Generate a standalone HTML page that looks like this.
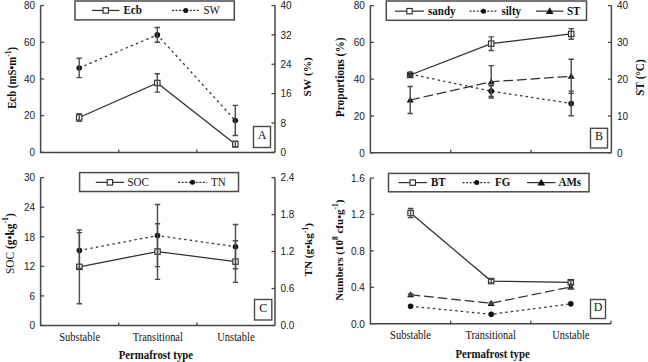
<!DOCTYPE html>
<html><head><meta charset="utf-8"><style>
html,body{margin:0;padding:0;background:#fff;}
svg{display:block;}
.tk{font-family:"Liberation Sans", sans-serif;font-size:10px;fill:#1a1a1a;}
.lg{font-family:"Liberation Serif", serif;font-size:11px;fill:#111;}
.lgb{font-family:"Liberation Serif", serif;font-size:11px;font-weight:bold;fill:#111;}
.bx{font-family:"Liberation Serif", serif;font-size:12px;fill:#111;}
.xl{font-family:"Liberation Serif", serif;font-size:10.5px;fill:#111;}
.ttl{font-family:"Liberation Serif", serif;font-size:10.8px;font-weight:bold;fill:#111;}
</style></head><body>
<svg width="648" height="362" viewBox="0 0 648 362">
<rect width="648" height="362" fill="#fff"/>
<path d="M40.6 5.5V152.4H275" fill="none" stroke="#474747" stroke-width="1.5"/>
<path d="M275 5.5V152.4" fill="none" stroke="#474747" stroke-width="1.5"/>
<path d="M118.73 152.4V149.4" stroke="#474747" stroke-width="1.3"/>
<path d="M196.87 152.4V149.4" stroke="#474747" stroke-width="1.3"/>
<path d="M40.6 152.40H44.1" stroke="#474747" stroke-width="1.3"/>
<text transform="translate(35.10 156.20) scale(1 1.155)" text-anchor="end" class="tk">0</text>
<path d="M40.6 115.68H44.1" stroke="#474747" stroke-width="1.3"/>
<text transform="translate(35.10 119.48) scale(1 1.155)" text-anchor="end" class="tk">20</text>
<path d="M40.6 78.95H44.1" stroke="#474747" stroke-width="1.3"/>
<text transform="translate(35.10 82.75) scale(1 1.155)" text-anchor="end" class="tk">40</text>
<path d="M40.6 42.22H44.1" stroke="#474747" stroke-width="1.3"/>
<text transform="translate(35.10 46.02) scale(1 1.155)" text-anchor="end" class="tk">60</text>
<path d="M40.6 5.50H44.1" stroke="#474747" stroke-width="1.3"/>
<text transform="translate(35.10 9.30) scale(1 1.155)" text-anchor="end" class="tk">80</text>
<path d="M275 152.40H271.5" stroke="#474747" stroke-width="1.3"/>
<text transform="translate(280.50 156.20) scale(1 1.155)" class="tk">0</text>
<path d="M275 123.02H271.5" stroke="#474747" stroke-width="1.3"/>
<text transform="translate(280.50 126.82) scale(1 1.155)" class="tk">8</text>
<path d="M275 93.64H271.5" stroke="#474747" stroke-width="1.3"/>
<text transform="translate(280.50 97.44) scale(1 1.155)" class="tk">16</text>
<path d="M275 64.26H271.5" stroke="#474747" stroke-width="1.3"/>
<text transform="translate(280.50 68.06) scale(1 1.155)" class="tk">24</text>
<path d="M275 34.88H271.5" stroke="#474747" stroke-width="1.3"/>
<text transform="translate(280.50 38.68) scale(1 1.155)" class="tk">32</text>
<path d="M275 5.50H271.5" stroke="#474747" stroke-width="1.3"/>
<text transform="translate(280.50 9.30) scale(1 1.155)" class="tk">40</text>
<path d="M79.20 117.51 L157.30 82.99 L235.30 144.14" fill="none" stroke="#2e2e2e" stroke-width="1.25"/>
<rect x="76.50" y="114.81" width="5.40" height="5.40" fill="#fff" stroke="#2e2e2e" stroke-width="1.15"/>
<rect x="154.60" y="80.29" width="5.40" height="5.40" fill="#fff" stroke="#2e2e2e" stroke-width="1.15"/>
<rect x="232.60" y="141.44" width="5.40" height="5.40" fill="#fff" stroke="#2e2e2e" stroke-width="1.15"/>
<path d="M79.20 113.66V121.37M76.50 113.66H81.90M76.50 121.37H81.90" stroke="#4a4a4a" stroke-width="1.4"/>
<path d="M157.30 73.81V92.17M154.60 73.81H160.00M154.60 92.17H160.00" stroke="#4a4a4a" stroke-width="1.4"/>
<path d="M235.30 141.20V147.07M232.60 141.20H238.00M232.60 147.07H238.00" stroke="#4a4a4a" stroke-width="1.4"/>
<path d="M79.20 67.93 L157.30 34.88 L235.30 120.45" fill="none" stroke="#2e2e2e" stroke-width="1.25" stroke-dasharray="2.4 3.2"/>
<circle cx="79.20" cy="67.93" r="2.80" fill="#111"/>
<circle cx="157.30" cy="34.88" r="2.80" fill="#111"/>
<circle cx="235.30" cy="120.45" r="2.80" fill="#111"/>
<path d="M79.20 58.20V77.66M76.50 58.20H81.90M76.50 77.66H81.90" stroke="#4a4a4a" stroke-width="1.4"/>
<path d="M157.30 27.53V42.23M154.60 27.53H160.00M154.60 42.23H160.00" stroke="#4a4a4a" stroke-width="1.4"/>
<path d="M235.30 105.39V135.51M232.60 105.39H238.00M232.60 135.51H238.00" stroke="#4a4a4a" stroke-width="1.4"/>
<rect x="75" y="1.0" width="159.3" height="18.9" fill="#fff" stroke="#4a4a4a" stroke-width="1.5"/>
<path d="M92 10.45H119.5" stroke="#2e2e2e" stroke-width="1.2"/>
<rect x="103.05" y="7.75" width="5.40" height="5.40" fill="#fff" stroke="#2e2e2e" stroke-width="1.15"/>
<text transform="translate(123.50 14.25) scale(1 1.1)" class="lgb">Ecb</text>
<path d="M172 10.45H199.5" stroke="#2e2e2e" stroke-width="1.2" stroke-dasharray="2 1.55"/>
<circle cx="185.75" cy="10.45" r="2.52" fill="#111"/>
<text transform="translate(203.50 14.25) scale(1 1.1)" class="lg">SW</text>
<rect x="253.5" y="126.5" width="17.0" height="21.0" fill="#fff" stroke="#4a4a4a" stroke-width="1.4"/>
<text transform="translate(262.00 138.80) scale(1 1.1)" text-anchor="middle" class="bx">A</text>
<text transform="translate(15.8 77.9) rotate(-90) scale(1 1.15)" text-anchor="middle" class="ttl" style="font-size:10.8px">Ecb (mS•m<tspan dy="-4.5" font-size="7.5">-1</tspan><tspan dy="4.5">)</tspan></text>
<text transform="translate(310.85 76.8) rotate(-90) scale(1 1.0)" text-anchor="middle" class="ttl" style="font-size:11.4px">SW (%)</text>
<path d="M370.4 5.6V152.8H611.4" fill="none" stroke="#474747" stroke-width="1.5"/>
<path d="M611.4 5.6V152.8" fill="none" stroke="#474747" stroke-width="1.5"/>
<path d="M450.73 152.8V149.8" stroke="#474747" stroke-width="1.3"/>
<path d="M531.07 152.8V149.8" stroke="#474747" stroke-width="1.3"/>
<path d="M370.4 152.80H373.9" stroke="#474747" stroke-width="1.3"/>
<text transform="translate(364.90 156.60) scale(1 1.155)" text-anchor="end" class="tk">0</text>
<path d="M370.4 116.00H373.9" stroke="#474747" stroke-width="1.3"/>
<text transform="translate(364.90 119.80) scale(1 1.155)" text-anchor="end" class="tk">20</text>
<path d="M370.4 79.20H373.9" stroke="#474747" stroke-width="1.3"/>
<text transform="translate(364.90 83.00) scale(1 1.155)" text-anchor="end" class="tk">40</text>
<path d="M370.4 42.40H373.9" stroke="#474747" stroke-width="1.3"/>
<text transform="translate(364.90 46.20) scale(1 1.155)" text-anchor="end" class="tk">60</text>
<path d="M370.4 5.60H373.9" stroke="#474747" stroke-width="1.3"/>
<text transform="translate(364.90 9.40) scale(1 1.155)" text-anchor="end" class="tk">80</text>
<path d="M611.4 152.80H607.9" stroke="#474747" stroke-width="1.3"/>
<text transform="translate(616.90 156.60) scale(1 1.155)" class="tk">0</text>
<path d="M611.4 116.00H607.9" stroke="#474747" stroke-width="1.3"/>
<text transform="translate(616.90 119.80) scale(1 1.155)" class="tk">10</text>
<path d="M611.4 79.20H607.9" stroke="#474747" stroke-width="1.3"/>
<text transform="translate(616.90 83.00) scale(1 1.155)" class="tk">20</text>
<path d="M611.4 42.40H607.9" stroke="#474747" stroke-width="1.3"/>
<text transform="translate(616.90 46.20) scale(1 1.155)" class="tk">30</text>
<path d="M611.4 5.60H607.9" stroke="#474747" stroke-width="1.3"/>
<text transform="translate(616.90 9.40) scale(1 1.155)" class="tk">40</text>
<path d="M410.20 74.97 L491.20 43.69 L571.20 33.94" fill="none" stroke="#2e2e2e" stroke-width="1.25"/>
<rect x="407.50" y="72.27" width="5.40" height="5.40" fill="#fff" stroke="#2e2e2e" stroke-width="1.15"/>
<rect x="488.50" y="40.99" width="5.40" height="5.40" fill="#fff" stroke="#2e2e2e" stroke-width="1.15"/>
<rect x="568.50" y="31.24" width="5.40" height="5.40" fill="#fff" stroke="#2e2e2e" stroke-width="1.15"/>
<path d="M410.20 73.50V76.44M407.50 73.50H412.90M407.50 76.44H412.90" stroke="#4a4a4a" stroke-width="1.4"/>
<path d="M491.20 36.88V50.50M488.50 36.88H493.90M488.50 50.50H493.90" stroke="#4a4a4a" stroke-width="1.4"/>
<path d="M571.20 28.60V39.27M568.50 28.60H573.90M568.50 39.27H573.90" stroke="#4a4a4a" stroke-width="1.4"/>
<path d="M410.20 74.05 L491.20 91.16 L571.20 103.49" fill="none" stroke="#2e2e2e" stroke-width="1.25" stroke-dasharray="2.4 3.2"/>
<circle cx="410.20" cy="74.05" r="2.80" fill="#111"/>
<circle cx="491.20" cy="91.16" r="2.80" fill="#111"/>
<circle cx="571.20" cy="103.49" r="2.80" fill="#111"/>
<path d="M410.20 72.58V75.52M407.50 72.58H412.90M407.50 75.52H412.90" stroke="#4a4a4a" stroke-width="1.4"/>
<path d="M491.20 85.82V96.50M488.50 85.82H493.90M488.50 96.50H493.90" stroke="#4a4a4a" stroke-width="1.4"/>
<path d="M571.20 91.16V115.82M568.50 91.16H573.90M568.50 115.82H573.90" stroke="#4a4a4a" stroke-width="1.4"/>
<path d="M410.20 99.99 L491.20 81.78 L571.20 76.26" fill="none" stroke="#2e2e2e" stroke-width="1.25" stroke-dasharray="9.7 3.9"/>
<path d="M410.20 96.39L413.70 102.59L406.70 102.59Z" fill="#111"/>
<path d="M491.20 78.18L494.70 84.38L487.70 84.38Z" fill="#111"/>
<path d="M571.20 72.66L574.70 78.86L567.70 78.86Z" fill="#111"/>
<path d="M410.20 86.52V113.46M407.50 86.52H412.90M407.50 113.46H412.90" stroke="#4a4a4a" stroke-width="1.4"/>
<path d="M491.20 65.58V97.97M488.50 65.58H493.90M488.50 97.97H493.90" stroke="#4a4a4a" stroke-width="1.4"/>
<path d="M571.20 59.18V93.33M568.50 59.18H573.90M568.50 93.33H573.90" stroke="#4a4a4a" stroke-width="1.4"/>
<rect x="386.3" y="1.0" width="200.2" height="19.3" fill="#fff" stroke="#4a4a4a" stroke-width="1.5"/>
<path d="M395 11.15H424" stroke="#2e2e2e" stroke-width="1.2"/>
<rect x="406.80" y="8.45" width="5.40" height="5.40" fill="#fff" stroke="#2e2e2e" stroke-width="1.15"/>
<text transform="translate(428.00 15.25) scale(1 1.1)" class="lgb">sandy</text>
<path d="M469.5 11.15H497.6" stroke="#2e2e2e" stroke-width="1.2" stroke-dasharray="2 1.55"/>
<circle cx="483.55" cy="11.15" r="2.52" fill="#111"/>
<text transform="translate(501.50 15.25) scale(1 1.1)" class="lgb">silty</text>
<path d="M536 11.15H563.5" stroke="#2e2e2e" stroke-width="1.2"/>
<path d="M549.75 7.19L553.60 14.01L545.90 14.01Z" fill="#111"/>
<text transform="translate(567.00 15.25) scale(1 1.1)" class="lgb">ST</text>
<rect x="590.5" y="128.3" width="17.0" height="19.69999999999999" fill="#fff" stroke="#4a4a4a" stroke-width="1.4"/>
<text transform="translate(599.00 139.95) scale(1 1.1)" text-anchor="middle" class="bx">B</text>
<text transform="translate(344.0 77.3) rotate(-90) scale(1 1.15)" text-anchor="middle" class="ttl" style="font-size:11.4px">Proportions (%)</text>
<text transform="translate(644.0 77.5) rotate(-90) scale(1 1.05)" text-anchor="middle" class="ttl" style="font-size:11.2px">ST (°C)</text>
<path d="M40.6 177.6V325.5H275" fill="none" stroke="#474747" stroke-width="1.5"/>
<path d="M275 177.6V325.5" fill="none" stroke="#474747" stroke-width="1.5"/>
<path d="M118.73 325.5V322.5" stroke="#474747" stroke-width="1.3"/>
<path d="M196.87 325.5V322.5" stroke="#474747" stroke-width="1.3"/>
<path d="M40.6 325.50H44.1" stroke="#474747" stroke-width="1.3"/>
<text transform="translate(35.10 329.30) scale(1 1.155)" text-anchor="end" class="tk">0</text>
<path d="M40.6 295.92H44.1" stroke="#474747" stroke-width="1.3"/>
<text transform="translate(35.10 299.72) scale(1 1.155)" text-anchor="end" class="tk">6</text>
<path d="M40.6 266.34H44.1" stroke="#474747" stroke-width="1.3"/>
<text transform="translate(35.10 270.14) scale(1 1.155)" text-anchor="end" class="tk">12</text>
<path d="M40.6 236.76H44.1" stroke="#474747" stroke-width="1.3"/>
<text transform="translate(35.10 240.56) scale(1 1.155)" text-anchor="end" class="tk">18</text>
<path d="M40.6 207.18H44.1" stroke="#474747" stroke-width="1.3"/>
<text transform="translate(35.10 210.98) scale(1 1.155)" text-anchor="end" class="tk">24</text>
<path d="M40.6 177.60H44.1" stroke="#474747" stroke-width="1.3"/>
<text transform="translate(35.10 181.40) scale(1 1.155)" text-anchor="end" class="tk">30</text>
<path d="M275 325.50H271.5" stroke="#474747" stroke-width="1.3"/>
<text transform="translate(280.50 329.30) scale(1 1.155)" class="tk">0.0</text>
<path d="M275 288.52H271.5" stroke="#474747" stroke-width="1.3"/>
<text transform="translate(280.50 292.32) scale(1 1.155)" class="tk">0.6</text>
<path d="M275 251.55H271.5" stroke="#474747" stroke-width="1.3"/>
<text transform="translate(280.50 255.35) scale(1 1.155)" class="tk">1.2</text>
<path d="M275 214.57H271.5" stroke="#474747" stroke-width="1.3"/>
<text transform="translate(280.50 218.38) scale(1 1.155)" class="tk">1.8</text>
<path d="M275 177.60H271.5" stroke="#474747" stroke-width="1.3"/>
<text transform="translate(280.50 181.40) scale(1 1.155)" class="tk">2.4</text>
<path d="M79.40 266.83 L157.50 251.55 L235.50 261.61" fill="none" stroke="#2e2e2e" stroke-width="1.25"/>
<rect x="76.70" y="264.13" width="5.40" height="5.40" fill="#fff" stroke="#2e2e2e" stroke-width="1.15"/>
<rect x="154.80" y="248.85" width="5.40" height="5.40" fill="#fff" stroke="#2e2e2e" stroke-width="1.15"/>
<rect x="232.80" y="258.91" width="5.40" height="5.40" fill="#fff" stroke="#2e2e2e" stroke-width="1.15"/>
<path d="M79.40 229.86V303.81M76.70 229.86H82.10M76.70 303.81H82.10" stroke="#4a4a4a" stroke-width="1.4"/>
<path d="M157.50 223.70V279.40M154.80 223.70H160.20M154.80 279.40H160.20" stroke="#4a4a4a" stroke-width="1.4"/>
<path d="M235.50 240.80V282.41M232.80 240.80H238.20M232.80 282.41H238.20" stroke="#4a4a4a" stroke-width="1.4"/>
<path d="M79.40 250.50 L157.50 235.53 L235.50 246.68" fill="none" stroke="#2e2e2e" stroke-width="1.25" stroke-dasharray="2.4 3.2"/>
<circle cx="79.40" cy="250.50" r="2.80" fill="#111"/>
<circle cx="157.50" cy="235.53" r="2.80" fill="#111"/>
<circle cx="235.50" cy="246.68" r="2.80" fill="#111"/>
<path d="M79.40 232.63V268.37M76.70 232.63H82.10M76.70 268.37H82.10" stroke="#4a4a4a" stroke-width="1.4"/>
<path d="M157.50 204.47V266.59M154.80 204.47H160.20M154.80 266.59H160.20" stroke="#4a4a4a" stroke-width="1.4"/>
<path d="M235.50 224.56V268.81M232.80 224.56H238.20M232.80 268.81H238.20" stroke="#4a4a4a" stroke-width="1.4"/>
<rect x="79.6" y="172.6" width="158.9" height="18.900000000000006" fill="#fff" stroke="#4a4a4a" stroke-width="1.5"/>
<path d="M95.8 182.35000000000002H124" stroke="#2e2e2e" stroke-width="1.2"/>
<rect x="107.20" y="179.65" width="5.40" height="5.40" fill="#fff" stroke="#2e2e2e" stroke-width="1.15"/>
<text transform="translate(127.50 186.15) scale(1 1.1)" class="lg">SOC</text>
<path d="M178 182.35000000000002H207" stroke="#2e2e2e" stroke-width="1.2" stroke-dasharray="2 1.55"/>
<circle cx="192.50" cy="182.35" r="2.52" fill="#111"/>
<text transform="translate(211.00 186.15) scale(1 1.1)" class="lg">TN</text>
<rect x="254.5" y="299.5" width="17.30000000000001" height="20.5" fill="#fff" stroke="#4a4a4a" stroke-width="1.4"/>
<text transform="translate(263.15 311.55) scale(1 1.1)" text-anchor="middle" class="bx">C</text>
<text transform="translate(13.6 243.6) rotate(-90) scale(1 1.15)" text-anchor="middle" class="ttl" style="font-size:11.4px"><tspan font-weight="normal">SOC</tspan> (g•kg<tspan dy="-5" font-size="8">-1</tspan><tspan dy="5">)</tspan></text>
<text transform="translate(312 249.8) rotate(-90) scale(1 1.0)" text-anchor="middle" class="ttl" style="font-size:11.2px">TN (g•kg<tspan dy="-4.5" font-size="7.5">-1</tspan><tspan dy="4.5">)</tspan></text>
<path d="M370.4 178.0V323.7H611" fill="none" stroke="#474747" stroke-width="1.5"/>
<path d="M611 323.7V320.7" fill="none" stroke="#474747" stroke-width="1.3"/>
<path d="M450.60 323.7V320.7" stroke="#474747" stroke-width="1.3"/>
<path d="M530.80 323.7V320.7" stroke="#474747" stroke-width="1.3"/>
<path d="M370.4 323.70H373.9" stroke="#474747" stroke-width="1.3"/>
<text transform="translate(364.90 327.50) scale(1 1.155)" text-anchor="end" class="tk">0.0</text>
<path d="M370.4 287.27H373.9" stroke="#474747" stroke-width="1.3"/>
<text transform="translate(364.90 291.07) scale(1 1.155)" text-anchor="end" class="tk">0.4</text>
<path d="M370.4 250.85H373.9" stroke="#474747" stroke-width="1.3"/>
<text transform="translate(364.90 254.65) scale(1 1.155)" text-anchor="end" class="tk">0.8</text>
<path d="M370.4 214.43H373.9" stroke="#474747" stroke-width="1.3"/>
<text transform="translate(364.90 218.23) scale(1 1.155)" text-anchor="end" class="tk">1.2</text>
<path d="M370.4 178.00H373.9" stroke="#474747" stroke-width="1.3"/>
<text transform="translate(364.90 181.80) scale(1 1.155)" text-anchor="end" class="tk">1.6</text>
<path d="M410.60 213.06 L491.20 281.08 L570.80 282.27" fill="none" stroke="#2e2e2e" stroke-width="1.25"/>
<rect x="407.90" y="210.36" width="5.40" height="5.40" fill="#fff" stroke="#2e2e2e" stroke-width="1.15"/>
<rect x="488.50" y="278.38" width="5.40" height="5.40" fill="#fff" stroke="#2e2e2e" stroke-width="1.15"/>
<rect x="568.10" y="279.57" width="5.40" height="5.40" fill="#fff" stroke="#2e2e2e" stroke-width="1.15"/>
<path d="M410.60 208.51V217.61M407.90 208.51H413.30M407.90 217.61H413.30" stroke="#4a4a4a" stroke-width="1.4"/>
<path d="M491.20 279.26V282.90M488.50 279.26H493.90M488.50 282.90H493.90" stroke="#4a4a4a" stroke-width="1.4"/>
<path d="M570.80 280.45V284.09M568.10 280.45H573.50M568.10 284.09H573.50" stroke="#4a4a4a" stroke-width="1.4"/>
<path d="M410.60 306.22 L491.20 314.32 L570.80 303.85" fill="none" stroke="#2e2e2e" stroke-width="1.25" stroke-dasharray="2.4 3.2"/>
<circle cx="410.60" cy="306.22" r="2.80" fill="#111"/>
<circle cx="491.20" cy="314.32" r="2.80" fill="#111"/>
<circle cx="570.80" cy="303.85" r="2.80" fill="#111"/>
<path d="M410.60 294.74 L491.20 303.30 L570.80 286.91" fill="none" stroke="#2e2e2e" stroke-width="1.25" stroke-dasharray="9.7 3.9"/>
<path d="M410.60 291.14L414.10 297.34L407.10 297.34Z" fill="#111"/>
<path d="M491.20 299.70L494.70 305.90L487.70 305.90Z" fill="#111"/>
<path d="M570.80 283.31L574.30 289.51L567.30 289.51Z" fill="#111"/>
<path d="M410.60 293.83V295.65M407.90 293.83H413.30M407.90 295.65H413.30" stroke="#4a4a4a" stroke-width="1.4"/>
<path d="M491.20 302.39V304.21M488.50 302.39H493.90M488.50 304.21H493.90" stroke="#4a4a4a" stroke-width="1.4"/>
<path d="M570.80 285.09V288.73M568.10 285.09H573.50M568.10 288.73H573.50" stroke="#4a4a4a" stroke-width="1.4"/>
<rect x="388.5" y="173.4" width="200.5" height="18.400000000000006" fill="#fff" stroke="#4a4a4a" stroke-width="1.5"/>
<path d="M398.5 182.60000000000002H427" stroke="#2e2e2e" stroke-width="1.2"/>
<rect x="410.05" y="179.90" width="5.40" height="5.40" fill="#fff" stroke="#2e2e2e" stroke-width="1.15"/>
<text transform="translate(431.00 186.40) scale(1 1.1)" class="lgb">BT</text>
<path d="M462.5 182.60000000000002H491" stroke="#2e2e2e" stroke-width="1.2" stroke-dasharray="2 1.55"/>
<circle cx="476.75" cy="182.60" r="2.52" fill="#111"/>
<text transform="translate(495.00 186.40) scale(1 1.1)" class="lgb">FG</text>
<path d="M527 182.60000000000002H555.5" stroke="#2e2e2e" stroke-width="1.2"/>
<path d="M541.25 178.64L545.10 185.46L537.40 185.46Z" fill="#111"/>
<text transform="translate(558.50 186.40) scale(1 1.1)" class="lgb">AMs</text>
<rect x="590.5" y="299.5" width="15.0" height="19.0" fill="#fff" stroke="#4a4a4a" stroke-width="1.4"/>
<text transform="translate(598.00 310.80) scale(1 1.1)" text-anchor="middle" class="bx">D</text>
<text transform="translate(342.5 250.2) rotate(-90) scale(1 1.0)" text-anchor="middle" class="ttl" style="font-size:11px">Numbers (10<tspan dy="-4.5" font-size="7.5">8</tspan><tspan dy="4.5"> cfu•g</tspan><tspan dy="-4.5" font-size="7.5">-1</tspan><tspan dy="4.5">)</tspan></text>
<text transform="translate(79.67 341.00) scale(1 1.1)" text-anchor="middle" class="xl">Substable</text>
<text transform="translate(157.80 341.00) scale(1 1.1)" text-anchor="middle" class="xl">Transitional</text>
<text transform="translate(235.93 341.00) scale(1 1.1)" text-anchor="middle" class="xl">Unstable</text>
<text transform="translate(155.90 358.90) scale(1 1.1)" text-anchor="middle" class="ttl">Permafrost type</text>
<text transform="translate(410.50 339.30) scale(1 1.1)" text-anchor="middle" class="xl">Substable</text>
<text transform="translate(490.70 339.30) scale(1 1.1)" text-anchor="middle" class="xl">Transitional</text>
<text transform="translate(570.90 339.30) scale(1 1.1)" text-anchor="middle" class="xl">Unstable</text>
<text transform="translate(492.60 357.70) scale(1 1.1)" text-anchor="middle" class="ttl">Permafrost type</text>
</svg>
</body></html>
